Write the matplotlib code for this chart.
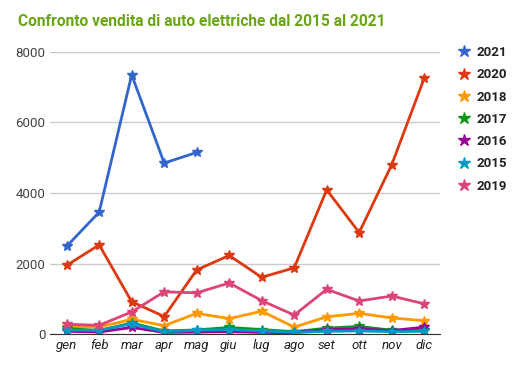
import matplotlib.pyplot as plt

plt.rcParams['font.family'] = ['Roboto', 'DejaVu Sans']

mesi = ['gen', 'feb', 'mar', 'apr', 'mag', 'giu', 'lug', 'ago', 'set', 'ott', 'nov', 'dic']

v2021 = [2490, 3460, 7350, 4850, 5150]
v2020 = [1950, 2530, 920, 500, 1820, 2230, 1610, 1880, 4090, 2880, 4800, 7250]
v2018 = [200, 200, 420, 240, 590, 440, 650, 200, 490, 590, 460, 380]
v2017 = [160, 100, 320, 90, 120, 190, 130, 70, 170, 220, 110, 110]
v2016 = [80, 60, 190, 50, 60, 70, 50, 40, 130, 150, 100, 200]
v2015 = [110, 110, 290, 70, 110, 130, 90, 50, 80, 90, 70, 80]
v2019 = [280, 250, 630, 1200, 1170, 1450, 950, 540, 1270, 940, 1080, 860]

serie = [
    ('2021', v2021, '#3366cc'),
    ('2020', v2020, '#dc3912'),
    ('2018', v2018, '#ff9900'),
    ('2017', v2017, '#109618'),
    ('2016', v2016, '#990099'),
    ('2015', v2015, '#0099c6'),
    ('2019', v2019, '#dd4477'),
]

fig = plt.figure(figsize=(5.2, 3.68), dpi=100)
ax = fig.add_axes([0.097, 0.092, 0.75, 0.767])

for nome, valori, colore in serie:
    ax.plot(mesi[:len(valori)], valori, color=colore, lw=2, marker='*',
            markersize=7, label=nome)

ax.set_ylim(0, 8000)
ax.set_xlim(-0.5, 11.5)
ax.set_yticks([0, 2000, 4000, 6000, 8000])
ax.grid(axis='y', color='#cccccc', lw=1)
ax.set_axisbelow(True)
for s in ['top', 'right', 'left']:
    ax.spines[s].set_visible(False)
ax.spines['bottom'].set_color('#333333')
ax.tick_params(length=0)
ax.tick_params(axis='y', labelcolor='#444444', labelsize=9.5)
ax.tick_params(axis='x', labelcolor='#222222', labelsize=9.5)
for t in ax.get_xticklabels():
    t.set_fontstyle('italic')

handles = [plt.Line2D([], [], ls='', marker='*', markersize=9, color=c) for _, _, c in serie]
leg = fig.legend(handles, [n for n, _, _ in serie], loc='upper left',
                 bbox_to_anchor=(0.85, 0.907), frameon=False, labelspacing=0.7,
                 handletextpad=0.2, handlelength=1.5,
                 prop={'size': 9.5, 'weight': 'bold'})
for t in leg.get_texts():
    t.set_color('#222222')

fig.text(0.035, 0.93, 'Confronto vendita di auto elettriche dal 2015 al 2021',
         color='#6aa516', fontsize=11.2, fontweight='bold')

fig.savefig('out.png', dpi=100)
